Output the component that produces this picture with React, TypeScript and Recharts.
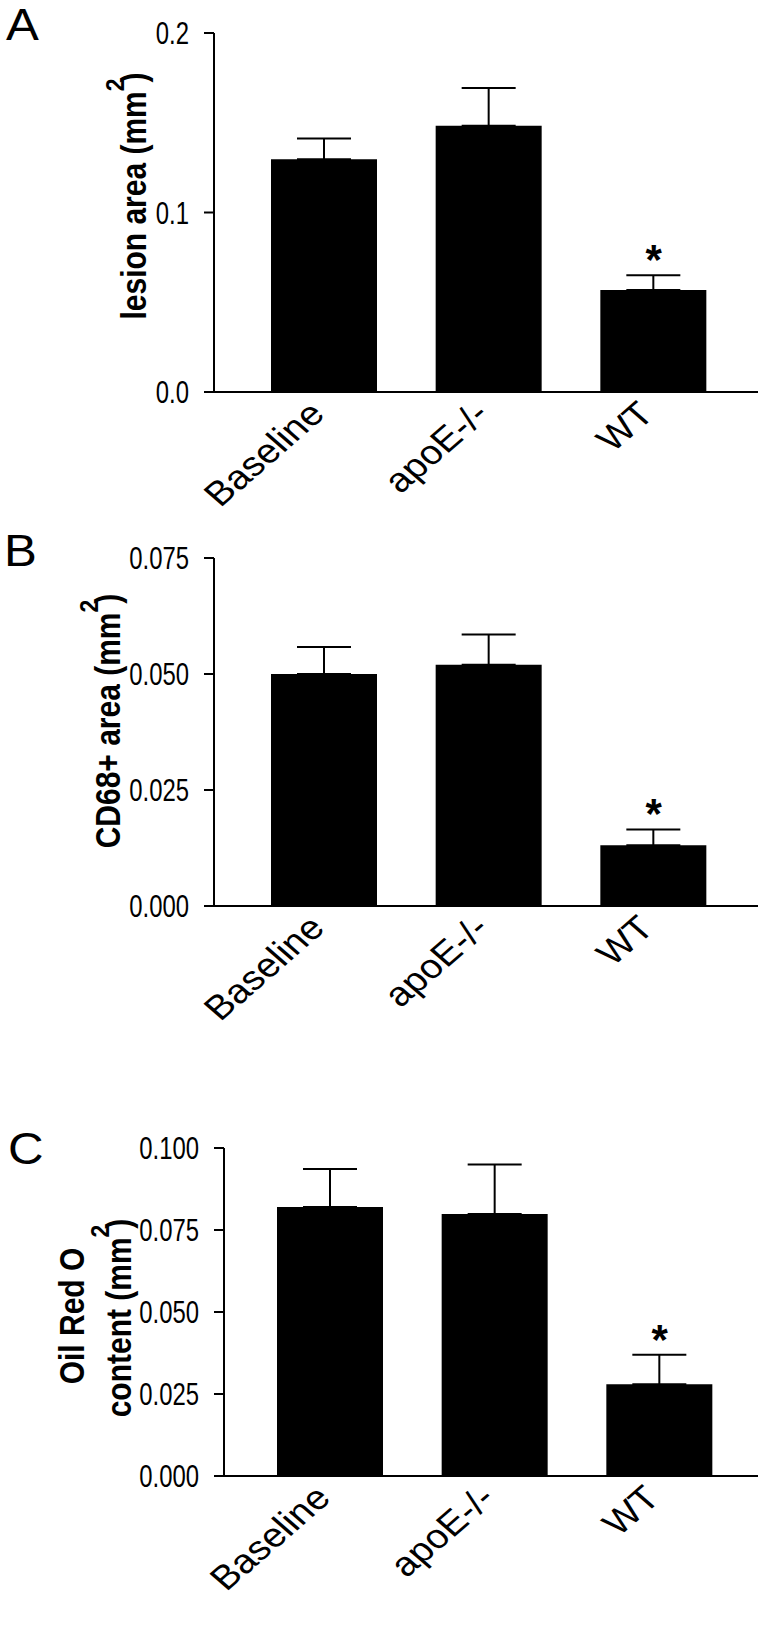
import React from 'react'
import { BarChart, Bar, XAxis, YAxis, ErrorBar, ReferenceDot } from 'recharts'

const FONT = '"Liberation Sans", Arial, Helvetica, sans-serif'

// groups, shared by all three panels
const categories = ['Baseline', 'apoE-/-', 'WT']
const significant = [false, false, true]

// A: lesion area (mm2)
const lesionMean = [0.1297, 0.1483, 0.0568]
const lesionSem = [0.0115, 0.021, 0.0083]
const lesionTicks = [0, 0.1, 0.2]

// B: CD68+ area (mm2)
const cd68Mean = [0.05, 0.052, 0.0131]
const cd68Sem = [0.0058, 0.0065, 0.0034]
const cd68Ticks = [0, 0.025, 0.05, 0.075]

// C: Oil Red O content (mm2)
const oilMean = [0.082, 0.0799, 0.028]
const oilSem = [0.0116, 0.0151, 0.009]
const oilTicks = [0, 0.025, 0.05, 0.075, 0.1]

interface LabelLine {
  text: string
  unit?: boolean
  x: number
  y: number
}

interface PanelProps {
  letter: string
  letterX: number
  letterY: number
  lines: LabelLine[]
  mean: number[]
  sem: number[]
  ticks: number[]
  decimals: number
  top: number
  height: number
  plotTop: number
  plotBottom: number
  axisX: number
  padLeft: number
  padRight: number
}

const CategoryTick = (props: any) => {
  const { x, y, payload } = props
  return (
    <g transform={`translate(${x + 2},${y + 24})`}>
      <text
        transform='scale(1.15,1) rotate(-45)'
        textAnchor='end'
        fontSize={34}
        fontFamily={FONT}
        fill='#000'
      >
        {payload.value}
      </text>
    </g>
  )
}

const NumberTick = (props: any) => {
  const { x, y, payload, decimals } = props
  return (
    <g transform={`translate(${x},${y}) scale(0.77,1)`}>
      <text textAnchor='end' dy={11} fontSize={31} fontFamily={FONT} fill='#000'>
        {Number(payload.value).toFixed(decimals)}
      </text>
    </g>
  )
}

const renderStar = (props: any) => {
  const { viewBox } = props
  const cx = viewBox.x + viewBox.width / 2
  const cy = viewBox.y + viewBox.height / 2
  return (
    <text
      x={cx}
      y={cy - 1}
      textAnchor='middle'
      fontSize={42}
      fontWeight='bold'
      fontFamily={FONT}
      fill='#000'
    >
      *
    </text>
  )
}

const Panel: React.FC<PanelProps> = (p) => {
  const data = categories.map((name, i) => ({
    name,
    mean: p.mean[i],
    err: [0, p.sem[i]],
    top: p.mean[i] + p.sem[i],
    sig: significant[i],
  }))
  const max = p.ticks[p.ticks.length - 1]

  return (
    <div
      style={{ position: 'absolute', left: 0, top: p.top, width: 770, height: p.height }}
    >
      <BarChart
        width={770}
        height={p.height}
        data={data}
        margin={{ top: p.plotTop, right: 12, bottom: 0, left: 0 }}
      >
        <XAxis
          dataKey='name'
          height={p.height - p.plotBottom}
          axisLine={{ stroke: '#000', strokeWidth: 2 }}
          tickLine={false}
          tickSize={0}
          tickMargin={0}
          interval={0}
          tick={<CategoryTick />}
          padding={{ left: p.padLeft, right: p.padRight }}
        />
        <YAxis
          width={p.axisX}
          domain={[0, max]}
          ticks={p.ticks}
          allowDataOverflow
          axisLine={{ stroke: '#000', strokeWidth: 2 }}
          tickLine={{ stroke: '#000', strokeWidth: 2 }}
          tickSize={10}
          tickMargin={15}
          tick={<NumberTick decimals={p.decimals} />}
        />
        <Bar dataKey='mean' fill='#000' barSize={106} isAnimationActive={false}>
          <ErrorBar dataKey='err' width={27} stroke='#000' strokeWidth={2} direction='y' />
        </Bar>
        {data
          .filter((d) => d.sig)
          .map((d) => (
            <ReferenceDot
              key={d.name}
              x={d.name}
              y={d.top}
              r={1}
              fill='none'
              stroke='none'
              label={renderStar}
            />
          ))}
      </BarChart>
      <svg
        width={770}
        height={p.height}
        style={{ position: 'absolute', left: 0, top: 0, pointerEvents: 'none' }}
      >
        <text
          transform={`translate(${p.letterX},${p.letterY}) scale(1.12,1)`}
          fontSize={44}
          fontFamily={FONT}
          fill='#000'
        >
          {p.letter}
        </text>
        {p.lines.map((line) => (
          <text
            key={line.text}
            transform={`translate(${line.x},${line.y}) rotate(-90) scale(1,1.15)`}
            textAnchor='middle'
            fontSize={30}
            fontWeight='bold'
            fontFamily={FONT}
            fill='#000'
          >
            {line.text}
            {line.unit && (
              <>
                <tspan dy={-19} fontSize={23}>2</tspan>
                <tspan dy={19} dx={-4}>)</tspan>
              </>
            )}
          </text>
        ))}
      </svg>
    </div>
  )
}

export default function App() {
  return (
    <div
      style={{
        position: 'absolute',
        left: 0,
        top: 0,
        width: 770,
        height: 1634,
        background: '#fff',
      }}
    >
      <Panel
        letter='A'
        letterX={6}
        letterY={40}
        lines={[{ text: 'lesion area (mm', unit: true, x: 146, y: 196 }]}
        mean={lesionMean}
        sem={lesionSem}
        ticks={lesionTicks}
        decimals={1}
        top={0}
        height={520}
        plotTop={33}
        plotBottom={392}
        axisX={214}
        padLeft={28}
        padRight={22}
      />
      <Panel
        letter='B'
        letterX={4}
        letterY={46}
        lines={[{ text: 'CD68+ area (mm', unit: true, x: 120, y: 201 }]}
        mean={cd68Mean}
        sem={cd68Sem}
        ticks={cd68Ticks}
        decimals={3}
        top={520}
        height={540}
        plotTop={38}
        plotBottom={386}
        axisX={214}
        padLeft={28}
        padRight={22}
      />
      <Panel
        letter='C'
        letterX={8}
        letterY={104}
        lines={[
          { text: 'Oil Red O', x: 84, y: 256 },
          { text: 'content (mm', unit: true, x: 131, y: 258 },
        ]}
        mean={oilMean}
        sem={oilSem}
        ticks={oilTicks}
        decimals={3}
        top={1060}
        height={574}
        plotTop={88}
        plotBottom={416}
        axisX={224}
        padLeft={24}
        padRight={16}
      />
    </div>
  )
}
